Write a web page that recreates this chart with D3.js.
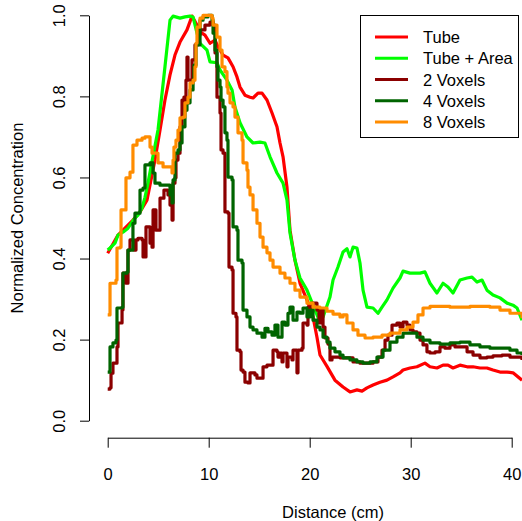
<!DOCTYPE html>
<html>
<head>
<meta charset="utf-8">
<script src="https://cdn.jsdelivr.net/npm/d3@7"></script>
<style>
  html, body { margin: 0; padding: 0; background: #fff; }
  svg { display: block; font-family: "Liberation Sans", Arial, Helvetica, sans-serif; }
</style>
</head>
<body>
<svg id="chart" width="522" height="521"></svg>
<script>
// Concentration profiles along the vessel: [distance (cm), normalized concentration]
const tube = [
  [0,0.413],[1.02,0.458],[2.5,0.495],[3.2,0.515],[3.89,0.544],[4.68,0.643],[5.18,0.717],[5.67,0.791],
  [6.17,0.853],[6.66,0.902],[7.16,0.934],[7.85,0.964],[8.35,0.998],[8.84,0.976],[9.14,0.959],[9.63,0.951],
  [10.13,0.931],[10.63,0.939],[10.92,0.922],[11.42,0.902],[11.91,0.895],[12.41,0.873],[12.8,0.848],[13.1,0.823],
  [13.59,0.803],[14.09,0.798],[14.39,0.796],[14.88,0.808],[15.28,0.808],[15.77,0.791],[16.27,0.759],[16.76,0.725],
  [17.06,0.685],[17.36,0.651],[17.75,0.576],[18.05,0.470],[18.54,0.396],[19.04,0.339],[19.73,0.298],[20.33,0.256],
  [20.72,0.206],[21.02,0.162],[21.71,0.134],[22.5,0.100],[23.3,0.083],[23.99,0.071],[24.68,0.076],[25.18,0.073],
  [25.67,0.081],[26.27,0.088],[26.96,0.095],[27.65,0.100],[28.25,0.108],[28.94,0.118],[29.24,0.125],[29.93,0.130],
  [30.62,0.133],[31.41,0.142],[31.91,0.133],[32.6,0.130],[33.2,0.137],[33.69,0.137],[34.19,0.130],[34.88,0.137],
  [35.58,0.133],[36.17,0.133],[36.86,0.130],[37.55,0.130],[38.15,0.125],[38.84,0.120],[39.54,0.120],[40.13,0.118],
  [41.02,0.100]
];

const tubeArea = [
  [0,0.421],[0.23,0.426],[0.72,0.438],[1.02,0.458],[1.51,0.465],[2.01,0.475],[2.41,0.490],[2.7,0.500],
  [3.0,0.507],[3.4,0.525],[3.69,0.551],[3.99,0.586],[4.39,0.640],[4.98,0.717],[5.67,0.873],[6.17,0.988],
  [6.47,0.998],[7.16,0.993],[7.65,0.996],[8.15,0.998],[8.45,0.996],[8.84,0.956],[9.14,0.931],[9.83,0.914],
  [10.13,0.885],[10.82,0.883],[11.12,0.865],[11.81,0.840],[12.31,0.816],[12.6,0.774],[13.1,0.735],[13.79,0.700],
  [14.39,0.685],[15.08,0.687],[15.57,0.685],[16.07,0.651],[16.76,0.611],[17.36,0.586],[17.75,0.544],[18.05,0.463],
  [18.54,0.396],[19.04,0.352],[19.73,0.322],[20.33,0.285],[21.02,0.243],[21.32,0.256],[22.01,0.305],[22.31,0.347],
  [22.8,0.379],[23.3,0.416],[23.69,0.424],[23.99,0.404],[24.29,0.428],[24.68,0.426],[24.98,0.389],[25.28,0.322],
  [25.67,0.280],[26.27,0.278],[26.76,0.265],[27.16,0.280],[27.65,0.298],[28.25,0.327],[28.94,0.352],[29.24,0.369],
  [29.93,0.364],[30.92,0.364],[31.41,0.367],[31.91,0.339],[32.6,0.315],[33.2,0.339],[33.69,0.330],[34.19,0.315],
  [34.88,0.347],[35.58,0.352],[36.07,0.354],[36.57,0.342],[37.06,0.347],[37.55,0.322],[38.15,0.310],[38.84,0.303],
  [39.54,0.290],[40.13,0.285],[40.53,0.278],[41.02,0.248]
];

const voxels2 = [
  [0,0.078],[0.23,0.081],[0.33,0.117],[0.52,0.142],[0.82,0.142],[0.92,0.182],[1.02,0.241],[1.32,0.241],
  [1.42,0.273],[1.51,0.364],[1.81,0.339],[2.01,0.339],[2.01,0.421],[2.21,0.446],[2.5,0.446],[2.6,0.421],
  [2.8,0.421],[2.8,0.446],[3.0,0.450],[3.4,0.446],[3.5,0.404],[3.69,0.404],[3.79,0.478],[4.09,0.478],
  [4.19,0.438],[4.39,0.428],[4.49,0.520],[4.68,0.520],[4.78,0.470],[5.08,0.470],[5.18,0.549],[5.48,0.549],
  [5.57,0.569],[5.87,0.569],[5.97,0.557],[6.17,0.532],[6.37,0.495],[6.47,0.586],[6.66,0.599],[6.76,0.643],
  [6.96,0.660],[7.16,0.725],[7.36,0.791],[7.55,0.798],[7.65,0.766],[7.75,0.840],[7.85,0.897],[7.95,0.897],
  [7.95,0.840],[8.15,0.840],[8.35,0.890],[8.64,0.927],[8.94,0.951],[9.14,0.964],[9.63,0.976],[10.13,0.983],
  [10.43,0.976],[10.63,0.964],[10.63,0.907],[10.82,0.798],[10.92,0.798],[11.12,0.759],[11.22,0.668],[11.42,0.660],
  [11.61,0.544],[11.61,0.515],[11.91,0.512],[12.01,0.379],[12.31,0.372],[12.41,0.265],[12.7,0.256],[12.8,0.174],
  [13.1,0.170],[13.2,0.125],[13.4,0.120],[13.59,0.095],[13.89,0.093],[14.09,0.118],[14.58,0.113],[14.78,0.105],
  [15.28,0.105],[15.38,0.133],[15.77,0.137],[16.07,0.137],[16.37,0.150],[16.37,0.174],[16.76,0.170],[16.86,0.157],
  [17.06,0.167],[17.26,0.145],[17.36,0.167],[17.75,0.133],[17.85,0.157],[18.25,0.150],[18.35,0.174],[18.74,0.118],
  [18.84,0.174],[19.24,0.179],[19.34,0.241],[19.73,0.236],[19.83,0.280],[20.23,0.290],[20.52,0.290],[20.72,0.273],
  [20.92,0.241],[21.12,0.273],[21.32,0.231],[21.51,0.204],[21.81,0.189],[22.01,0.150],[22.21,0.157],[22.5,0.157],
  [23.0,0.155],[23.69,0.155],[24.29,0.145],[24.98,0.142],[25.67,0.142],[26.27,0.145],[26.76,0.157],[27.16,0.174],
  [27.46,0.199],[27.75,0.211],[28.15,0.236],[28.64,0.241],[28.94,0.231],[29.24,0.243],[29.63,0.236],[29.93,0.224],
  [30.23,0.219],[30.62,0.216],[30.92,0.199],[31.22,0.187],[31.61,0.170],[31.91,0.167],[32.41,0.170],[32.9,0.182],
  [33.4,0.179],[33.89,0.187],[34.39,0.182],[34.88,0.182],[35.58,0.170],[36.17,0.162],[36.86,0.155],[37.55,0.157],
  [38.15,0.160],[39.04,0.162],[39.83,0.157],[40.53,0.157],[41.02,0.150]
];

const voxels4 = [
  [0,0.120],[0.23,0.125],[0.23,0.182],[0.52,0.192],[0.82,0.199],[0.92,0.278],[1.42,0.280],[1.51,0.364],
  [1.91,0.367],[2.01,0.421],[2.41,0.421],[2.5,0.487],[2.7,0.512],[3.0,0.512],[3.2,0.569],[3.5,0.574],
  [3.69,0.631],[4.19,0.636],[4.39,0.636],[4.49,0.611],[4.68,0.586],[5.18,0.581],[5.87,0.581],[6.17,0.557],
  [6.37,0.537],[6.47,0.594],[6.66,0.660],[6.96,0.668],[7.16,0.685],[7.36,0.725],[7.65,0.766],[7.85,0.784],
  [8.15,0.816],[8.45,0.840],[8.54,0.877],[8.74,0.927],[9.14,0.988],[9.44,0.996],[9.93,1.0],[10.13,1.0],
  [10.33,0.988],[10.43,0.956],[10.63,0.914],[10.82,0.873],[10.92,0.840],[11.12,0.823],[11.22,0.791],[11.42,0.774],
  [11.61,0.710],[11.81,0.692],[11.91,0.668],[11.91,0.601],[12.31,0.594],[12.41,0.544],[12.41,0.478],[12.8,0.470],
  [12.9,0.396],[13.3,0.389],[13.4,0.273],[13.79,0.256],[14.09,0.231],[14.39,0.224],[14.78,0.216],[15.28,0.206],
  [15.57,0.228],[15.87,0.219],[16.27,0.211],[16.56,0.236],[16.86,0.206],[17.26,0.243],[17.55,0.236],[17.85,0.265],
  [18.05,0.280],[18.35,0.248],[18.74,0.268],[19.04,0.265],[19.34,0.278],[19.73,0.256],[20.03,0.273],[20.33,0.248],
  [20.72,0.231],[21.02,0.224],[21.32,0.206],[21.71,0.194],[22.01,0.179],[22.5,0.170],[23.0,0.162],[23.3,0.155],
  [23.99,0.150],[24.68,0.145],[25.28,0.142],[25.97,0.145],[26.66,0.157],[27.26,0.174],[27.95,0.194],[28.64,0.206],
  [29.24,0.216],[29.93,0.216],[30.62,0.206],[31.22,0.199],[31.91,0.192],[32.9,0.189],[33.89,0.192],[34.88,0.194],
  [35.87,0.187],[36.86,0.182],[37.85,0.179],[38.84,0.179],[39.83,0.174],[40.53,0.167],[41.02,0.162]
];

const voxels8 = [
  [0,0.261],[0.13,0.261],[0.23,0.339],[0.82,0.347],[0.92,0.426],[1.22,0.428],[1.32,0.520],[1.71,0.520],
  [1.81,0.599],[2.21,0.599],[2.21,0.613],[2.5,0.613],[2.5,0.680],[2.9,0.680],[2.9,0.692],[3.2,0.692],
  [3.4,0.697],[3.69,0.700],[3.99,0.700],[4.19,0.675],[4.39,0.660],[4.88,0.660],[4.98,0.636],[5.38,0.636],
  [5.48,0.626],[6.17,0.626],[6.37,0.611],[6.47,0.643],[6.56,0.675],[6.76,0.692],[6.96,0.717],[7.16,0.747],
  [7.46,0.749],[7.65,0.784],[7.95,0.798],[8.15,0.833],[8.45,0.840],[8.64,0.873],[8.74,0.931],[8.84,0.971],
  [9.14,0.993],[9.44,1.0],[9.93,1.0],[10.33,0.993],[10.43,0.976],[10.82,0.946],[11.12,0.914],[11.32,0.873],
  [11.61,0.861],[11.81,0.823],[11.91,0.808],[12.11,0.784],[12.41,0.774],[12.6,0.749],[12.9,0.710],[13.3,0.692],
  [13.4,0.636],[13.79,0.618],[13.89,0.576],[14.09,0.557],[14.39,0.520],[14.78,0.487],[15.08,0.453],[15.38,0.428],
  [15.77,0.414],[16.07,0.396],[16.37,0.379],[17.06,0.364],[17.55,0.352],[18.05,0.339],[18.54,0.322],[19.04,0.305],
  [19.73,0.290],[20.33,0.280],[21.02,0.278],[21.71,0.270],[22.31,0.263],[23.0,0.256],[23.3,0.261],[23.69,0.241],
  [24.29,0.224],[24.78,0.211],[25.48,0.204],[26.27,0.206],[27.16,0.211],[27.95,0.216],[28.94,0.224],[29.63,0.231],
  [30.23,0.243],[30.72,0.261],[31.22,0.278],[31.91,0.282],[32.9,0.282],[33.89,0.280],[34.88,0.280],[35.87,0.282],
  [36.86,0.282],[37.85,0.280],[38.84,0.273],[39.83,0.265],[41.02,0.253]
];

const seriesNames  = ["Tube", "Tube + Area", "2 Voxels", "4 Voxels", "8 Voxels"];
const seriesColors = ["#ff0000", "#00ff00", "#8b0000", "#006400", "#ff8c00"];
const seriesData   = [tube, tubeArea, voxels2, voxels4, voxels8];
// voxel-sampled profiles are piecewise constant; tube profiles are continuous
const seriesStepped = [false, false, true, true, true];
const xTicks = [0, 10, 20, 30, 40];
const yTicks = [0, 0.2, 0.4, 0.6, 0.8, 1.0];
const xTitle = "Distance (cm)";
const yTitle = "Normalized Concentration";

const svg = d3.select("#chart");
const W = 522, H = 521;
const FONT = 16.5;

const x = d3.scaleLinear().domain([0, 40]).range([107.7, 511.7]);
const y = d3.scaleLinear().domain([0, 1]).range([420.7, 15.3]);

// plotting region clip
svg.append("defs").append("clipPath").attr("id", "plotClip")
  .append("rect").attr("x", 89).attr("y", 0).attr("width", W - 89).attr("height", 437);

// series lines
const gLines = svg.append("g").attr("clip-path", "url(#plotClip)");
seriesData.forEach((data, i) => {
  const line = d3.line()
    .x(d => x(d[0])).y(d => y(d[1]))
    .curve(seriesStepped[i] ? d3.curveStepAfter : d3.curveLinear);
  gLines.append("path")
    .datum(data)
    .attr("d", line)
    .attr("fill", "none")
    .attr("stroke", seriesColors[i])
    .attr("stroke-width", 3.2)
    .attr("stroke-linejoin", "round")
    .attr("stroke-linecap", "butt");
});

// x axis
const gx = svg.append("g")
  .attr("transform", "translate(0,437.7)")
  .call(d3.axisBottom(x).tickValues(xTicks).tickFormat(d3.format("d"))
        .tickSize(10).tickSizeOuter(0).tickPadding(21));
gx.select(".domain").attr("stroke", "#000");
gx.selectAll(".tick line").attr("stroke", "#000");
gx.selectAll("text").attr("font-size", FONT).attr("fill", "#000")
  .attr("font-family", "Liberation Sans, Arial, sans-serif");

// y axis with labels parallel to the axis
const gy = svg.append("g")
  .attr("transform", "translate(89,0)")
  .call(d3.axisLeft(y).tickValues(yTicks).tickFormat(d3.format(".1f"))
        .tickSize(9).tickSizeOuter(0));
gy.select(".domain").attr("stroke", "#000");
gy.selectAll(".tick line").attr("stroke", "#000");
gy.selectAll("text")
  .attr("x", null).attr("dy", null)
  .attr("text-anchor", "middle")
  .attr("transform", "translate(-24,0) rotate(-90)")
  .attr("font-size", FONT).attr("fill", "#000")
  .attr("font-family", "Liberation Sans, Arial, sans-serif");

// axis titles
svg.append("text")
  .attr("x", 333).attr("y", 518)
  .attr("text-anchor", "middle")
  .attr("font-size", FONT)
  .text(xTitle);
svg.append("text")
  .attr("transform", "translate(23,218) rotate(-90)")
  .attr("text-anchor", "middle")
  .attr("font-size", FONT)
  .text(yTitle);

// legend
const lg = svg.append("g");
lg.append("rect")
  .attr("x", 360.5).attr("y", 15.5).attr("width", 158).attr("height", 122)
  .attr("fill", "#fff").attr("stroke", "#000").attr("stroke-width", 1);
seriesNames.forEach((name, i) => {
  const cy = 37 + i * 21.25;
  lg.append("line")
    .attr("x1", 375).attr("x2", 408).attr("y1", cy).attr("y2", cy)
    .attr("stroke", seriesColors[i]).attr("stroke-width", 3.2);
  lg.append("text")
    .attr("x", 423).attr("y", cy + 6)
    .attr("font-size", FONT)
    .text(name);
});
</script>
</body>
</html>
